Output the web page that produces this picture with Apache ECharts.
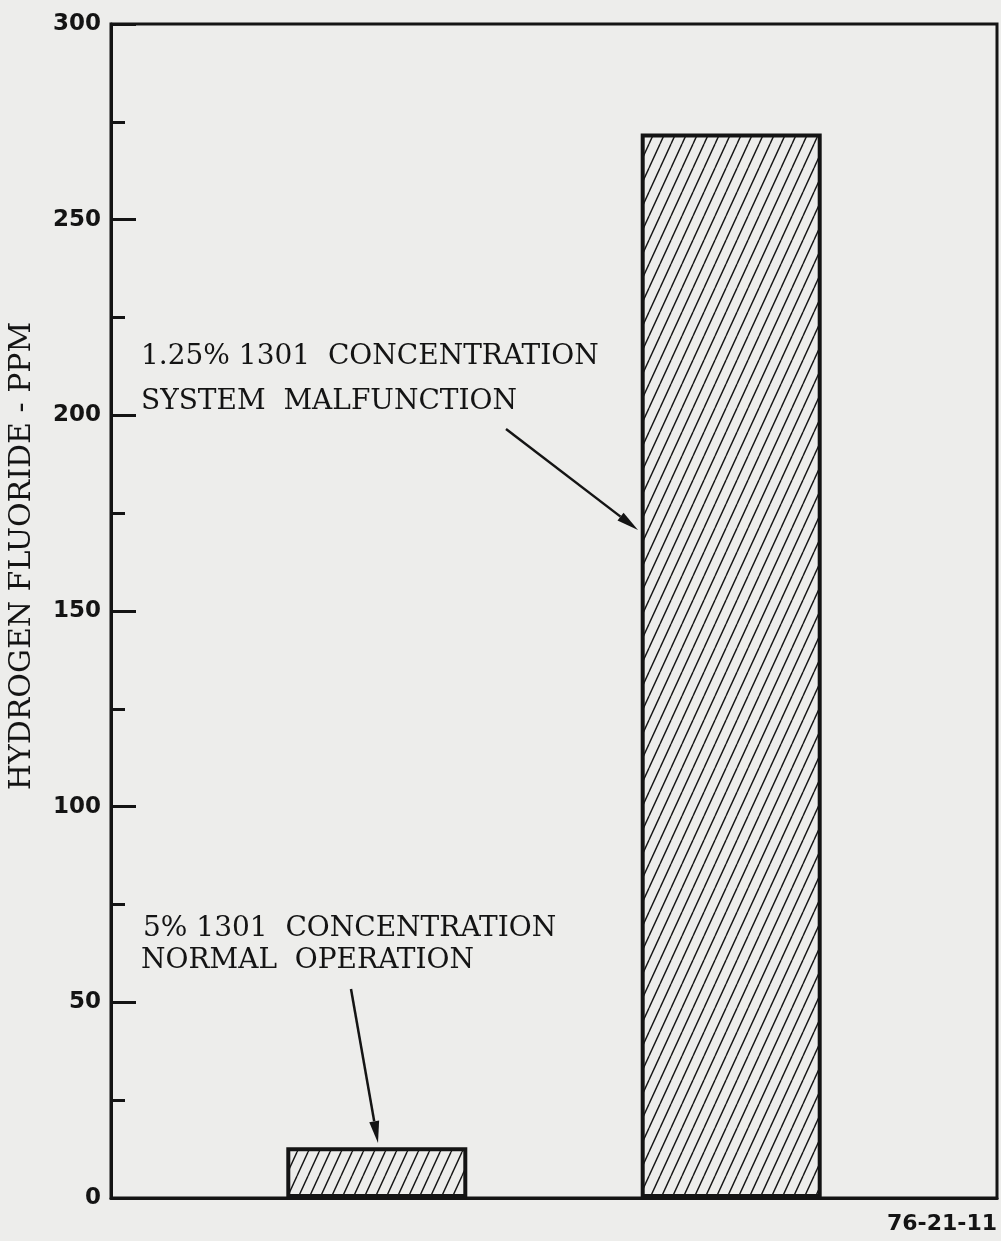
<!DOCTYPE html>
<html>
<head>
<meta charset="utf-8">
<script src="https://cdn.jsdelivr.net/npm/echarts@6/dist/echarts.min.js"></script>
<style>
  html, body { margin: 0; padding: 0; background: #ededeb; }
  #chart { width: 1001px; height: 1241px; }
</style>
</head>
<body>
<div id="chart"></div>
<script>
// data
const categories = ['', '5% normal', '', '1.25% malfunction', ''];
const hfPpm = [null, 13, null, 272, null];
const yMin = 0;
const yMax = 300;
const yStep = 50;

const INK = '#141414';
const PAPER = '#ededeb';

// diagonal hatch tile ("/" lines)
const makeHatch = () => {
    const w = 11, h = 24;
    const c = document.createElement('canvas');
    c.width = w;
    c.height = h;
    const ctx = c.getContext('2d');
    ctx.fillStyle = PAPER;
    ctx.fillRect(0, 0, w, h);
    ctx.strokeStyle = INK;
    ctx.lineWidth = 1.4;
    for (let k = -1; k <= 1; k++) {
        ctx.beginPath();
        ctx.moveTo(k * w, h);
        ctx.lineTo(k * w + w, 0);
        ctx.stroke();
    }
    return c;
};

// arrow built from start / tip points
const arrow = (x1, y1, x2, y2) => {
    const a = Math.atan2(y2 - y1, x2 - x1);
    const len = 22, half = 5;
    const bx = x2 - len * Math.cos(a), by = y2 - len * Math.sin(a);
    const nx = -Math.sin(a) * half, ny = Math.cos(a) * half;
    return [
        {
            type: 'line',
            shape: {x1: x1, y1: y1, x2: bx, y2: by},
            style: {stroke: INK, lineWidth: 2.5}
        },
        {
            type: 'polygon',
            shape: {points: [[x2, y2], [bx + nx, by + ny], [bx - nx, by - ny]]},
            style: {fill: INK}
        }
    ];
};

const note = (text, x, y) => ({
    type: 'text',
    x: x,
    y: y,
    style: {
        text: text,
        fontFamily: 'DejaVu Serif',
        fontSize: 28,
        fill: INK,
        verticalAlign: 'bottom'
    }
});

const chart = echarts.init(document.getElementById('chart'));

chart.setOption({
    backgroundColor: PAPER,
    animation: false,
    grid: {
        left: 111,
        right: 4,
        top: 24,
        bottom: 43,
        show: true,
        borderColor: INK,
        borderWidth: 3,
        backgroundColor: 'transparent'
    },
    xAxis: {
        type: 'category',
        data: categories,
        axisLine: {lineStyle: {color: INK, width: 3}},
        axisTick: {show: false},
        axisLabel: {show: false}
    },
    yAxis: {
        type: 'value',
        min: yMin,
        max: yMax,
        interval: yStep,
        axisLine: {show: true, lineStyle: {color: INK, width: 3}},
        axisTick: {
            show: true,
            inside: true,
            length: 25,
            lineStyle: {color: INK, width: 3}
        },
        minorTick: {
            show: true,
            splitNumber: 2,
            length: 14,
            lineStyle: {color: INK, width: 3}
        },
        splitLine: {show: false},
        axisLabel: {
            color: INK,
            fontFamily: 'DejaVu Sans',
            fontWeight: 'bold',
            fontSize: 23,
            margin: 10
        }
    },
    series: [
        {
            type: 'bar',
            data: hfPpm,
            barWidth: 181,
            itemStyle: {
                color: {image: makeHatch(), repeat: 'repeat'},
                borderColor: INK,
                borderWidth: 4
            }
        }
    ],
    graphic: [
        {
            type: 'text',
            x: 22,
            y: 556,
            rotation: Math.PI / 2,
            style: {
                text: 'HYDROGEN FLUORIDE - PPM',
                fontFamily: 'DejaVu Serif',
                fontSize: 30,
                fill: INK,
                align: 'center',
                verticalAlign: 'middle'
            }
        },
        note('1.25% 1301  CONCENTRATION', 141, 371),
        note('SYSTEM  MALFUNCTION', 141, 416),
        note('5% 1301  CONCENTRATION', 143, 943),
        note('NORMAL  OPERATION', 141, 975),
        ...arrow(506, 429, 638, 530),
        ...arrow(351, 989, 378, 1143),
        {
            type: 'text',
            right: 4,
            y: 1213,
            style: {
                text: '76-21-11',
                fontFamily: 'DejaVu Sans',
                fontWeight: 'bold',
                fontSize: 22,
                fill: INK
            }
        }
    ]
});
</script>
</body>
</html>
